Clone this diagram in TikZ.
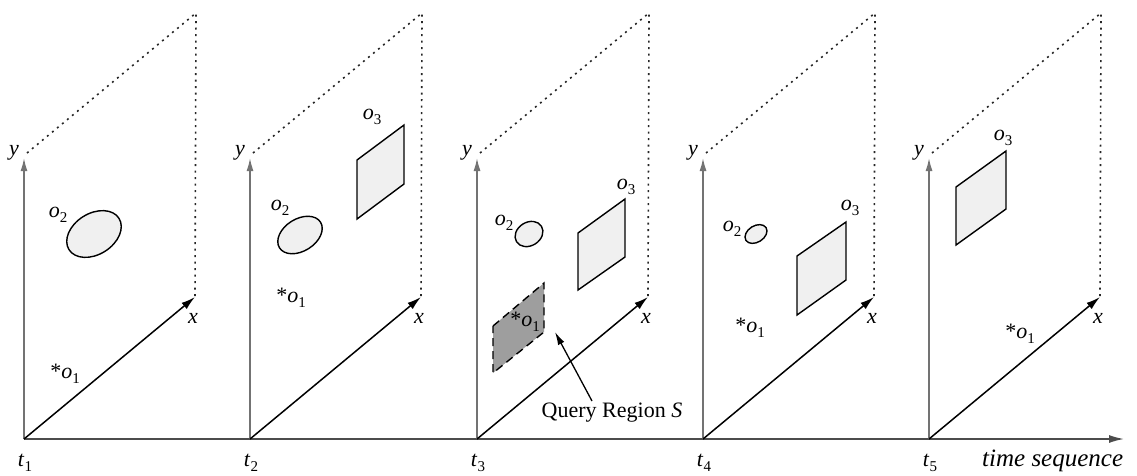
\documentclass[tikz,border=0pt]{standalone}
\usepackage{fontspec}
\setmainfont{Liberation Serif}
\usetikzlibrary{arrows.meta}
\newcommand{\osub}[2]{\textit{#1}\raisebox{-0.45ex}{\fontsize{15}{15}\selectfont #2}}
\begin{document}
\begin{tikzpicture}[x=1pt,y=-1pt,
  lbl/.style={font=\fontsize{22}{22}\selectfont, inner sep=0pt},
  yaxis/.style={draw=black!55, line width=1.5pt, -{Latex[length=13pt,width=7pt]}},
  xaxis/.style={draw=black, line width=1.5pt, -{Latex[length=14pt,width=8pt]}},
  taxis/.style={draw=black!70, line width=1.5pt, -{Latex[length=15pt,width=8pt]}},
  frame/.style={draw=black!85, line width=1.6pt, dash pattern=on 2pt off 4.5pt},
  obj/.style={draw=black, line width=1.4pt, fill=black!6},
  qreg/.style={draw=black, line width=1.4pt, dash pattern=on 8pt off 5pt, fill=black!38},
]
\useasboundingbox (0,0) rectangle (1137,475);

% time axis
\coordinate (T0) at (24,439);
\coordinate (TE) at (1124,439);
\draw[taxis] (T0) -- (TE);
\node[lbl, anchor=west, font=\fontsize{25}{25}\selectfont] (ts) at (982,461) {\textit{time sequence}};

% panels
\foreach \i/\ox in {1/24, 2/250, 3/477, 4/703, 5/929} {
  \coordinate (O\i) at (\ox,439);
  \coordinate (Y\i) at (\ox,158);
  \coordinate (X\i) at (\ox+171,297);
  \coordinate (D\i) at (\ox+172,13);
  \coordinate (F\i) at (\ox+3,153);
  \draw[frame] (F\i) -- (D\i) -- (X\i);
  \draw[yaxis] (O\i) -- (Y\i);
  \draw[xaxis] (O\i) -- (X\i);
  \node[lbl] (ylab\i) at (\ox-10,153) {\textit{y}};
  \node[lbl] (xlab\i) at (\ox+169,318) {\textit{x}};
  \node[lbl] (tlab\i) at (\ox+1,463) {\osub{t}{\i}};
}

% panel 1
\draw[obj, rotate around={32:(94,234)}] (94,234) ellipse [x radius=29.5, y radius=20.5];
\node[lbl] (o2a) at (58,215) {\osub{o}{2}};
\node[lbl] (o1a) at (65,374) {*\osub{o}{1}};

% panel 2
\draw[obj, rotate around={32:(300,235)}] (300,235) ellipse [x radius=24.2, y radius=16.1];
\node[lbl] (o2b) at (280,208) {\osub{o}{2}};
\draw[obj] (357,160) -- (404,125) -- (404,184) -- (357,219) -- cycle;
\node[lbl] (o3b) at (372,117) {\osub{o}{3}};
\node[lbl] (o1b) at (291,298) {*\osub{o}{1}};

% panel 3
\draw[obj, rotate around={32:(529,234)}] (529,234) ellipse [x radius=14.7, y radius=11.7];
\node[lbl] (o2c) at (504,223) {\osub{o}{2}};
\draw[obj] (578,233) -- (625,199) -- (625,257) -- (578,290) -- cycle;
\node[lbl] (o3c) at (626,187) {\osub{o}{3}};
\draw[qreg] (493,326) -- (544,283) -- (544,332) -- (493,373) -- cycle;
\node[lbl] (o1c) at (525,322) {*\osub{o}{1}};
\node[lbl] (qtext) at (612,413) {Query Region \textit{S}};
\coordinate (qa) at (592,401);
\coordinate (qb) at (555,332);
\draw[line width=1.3pt, -{Latex[length=13pt,width=7pt]}] (qa) -- (qb);

% panel 4
\draw[obj, rotate around={32:(756,234)}] (756,234) ellipse [x radius=11.9, y radius=8.2];
\node[lbl] (o2d) at (732,229) {\osub{o}{2}};
\draw[obj] (797,256) -- (846,222) -- (846,280) -- (797,315) -- cycle;
\node[lbl] (o3d) at (850,208) {\osub{o}{3}};
\node[lbl] (o1d) at (750,328) {*\osub{o}{1}};

% panel 5
\draw[obj] (956,187) -- (1006,151) -- (1006,209) -- (956,245) -- cycle;
\node[lbl] (o3e) at (1003,138) {\osub{o}{3}};
\node[lbl] (o1e) at (1020,334) {*\osub{o}{1}};
\end{tikzpicture}
\end{document}
